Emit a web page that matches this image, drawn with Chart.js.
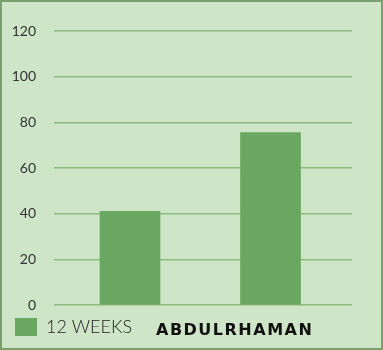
<!DOCTYPE html>
<html>
<head>
<meta charset="utf-8">
<script src="https://cdn.jsdelivr.net/npm/chart.js@4/dist/chart.umd.min.js"></script>
<style>
  html, body { margin: 0; padding: 0; }
  #frame {
    position: relative;
    width: 383px; height: 350px;
    box-sizing: border-box;
    border: 2px solid #7ba06d;
    background: #cfe5c8;
    overflow: hidden;
  }
  #chart { display: block; }
  #name {
    position: absolute;
    left: 154px; top: 318px;
    font: bold 16px "DejaVu Sans", sans-serif;
    letter-spacing: 1.5px;
    color: #111;
    white-space: nowrap;
  }
</style>
</head>
<body>
<div id="frame">
  <canvas id="chart" width="379" height="346"></canvas>
  <div id="name">ABDULRHAMAN</div>
</div>
<script>
// Two measurements of the 12-week series
const categories = [1, 2];
const seriesName = '12 WEEKS';
const seriesValues = [41, 75.5];
const yTicks = [0, 20, 40, 60, 80, 100, 120];

const points = categories.map((c, i) => ({ x: c, y: seriesValues[i] }));

new Chart(document.getElementById('chart'), {
  type: 'bar',
  data: {
    datasets: [{
      label: seriesName,
      data: points,
      backgroundColor: '#6aa862',
      borderWidth: 0,
      barThickness: 60
    }]
  },
  options: {
    responsive: false,
    animation: false,
    layout: { padding: { left: 0, right: 29, top: 29, bottom: 2 } },
    plugins: {
      tooltip: { enabled: false },
      legend: {
        position: 'bottom',
        align: 'start',
        labels: {
          boxWidth: 22,
          boxHeight: 18,
          padding: 13,
          color: '#222',
          font: { family: 'Lato, sans-serif', size: 18, weight: '300' }
        }
      }
    },
    scales: {
      x: {
        type: 'linear',
        offset: false,
        min: 0.459,
        max: 2.58,
        display: false,
        grid: { display: false }
      },
      y: {
        min: yTicks[0],
        max: yTicks[yTicks.length - 1],
        afterBuildTicks: (axis) => { axis.ticks = yTicks.map(v => ({ value: v })); },
        afterFit: (axis) => { axis.width = 52; },
        border: { display: false },
        grid: { color: '#8cbb7e', lineWidth: 1.5, drawTicks: false },
        ticks: {
          padding: 18,
          color: '#333',
          font: { family: 'Lato, sans-serif', size: 14 }
        }
      }
    }
  }
});
</script>
</body>
</html>
